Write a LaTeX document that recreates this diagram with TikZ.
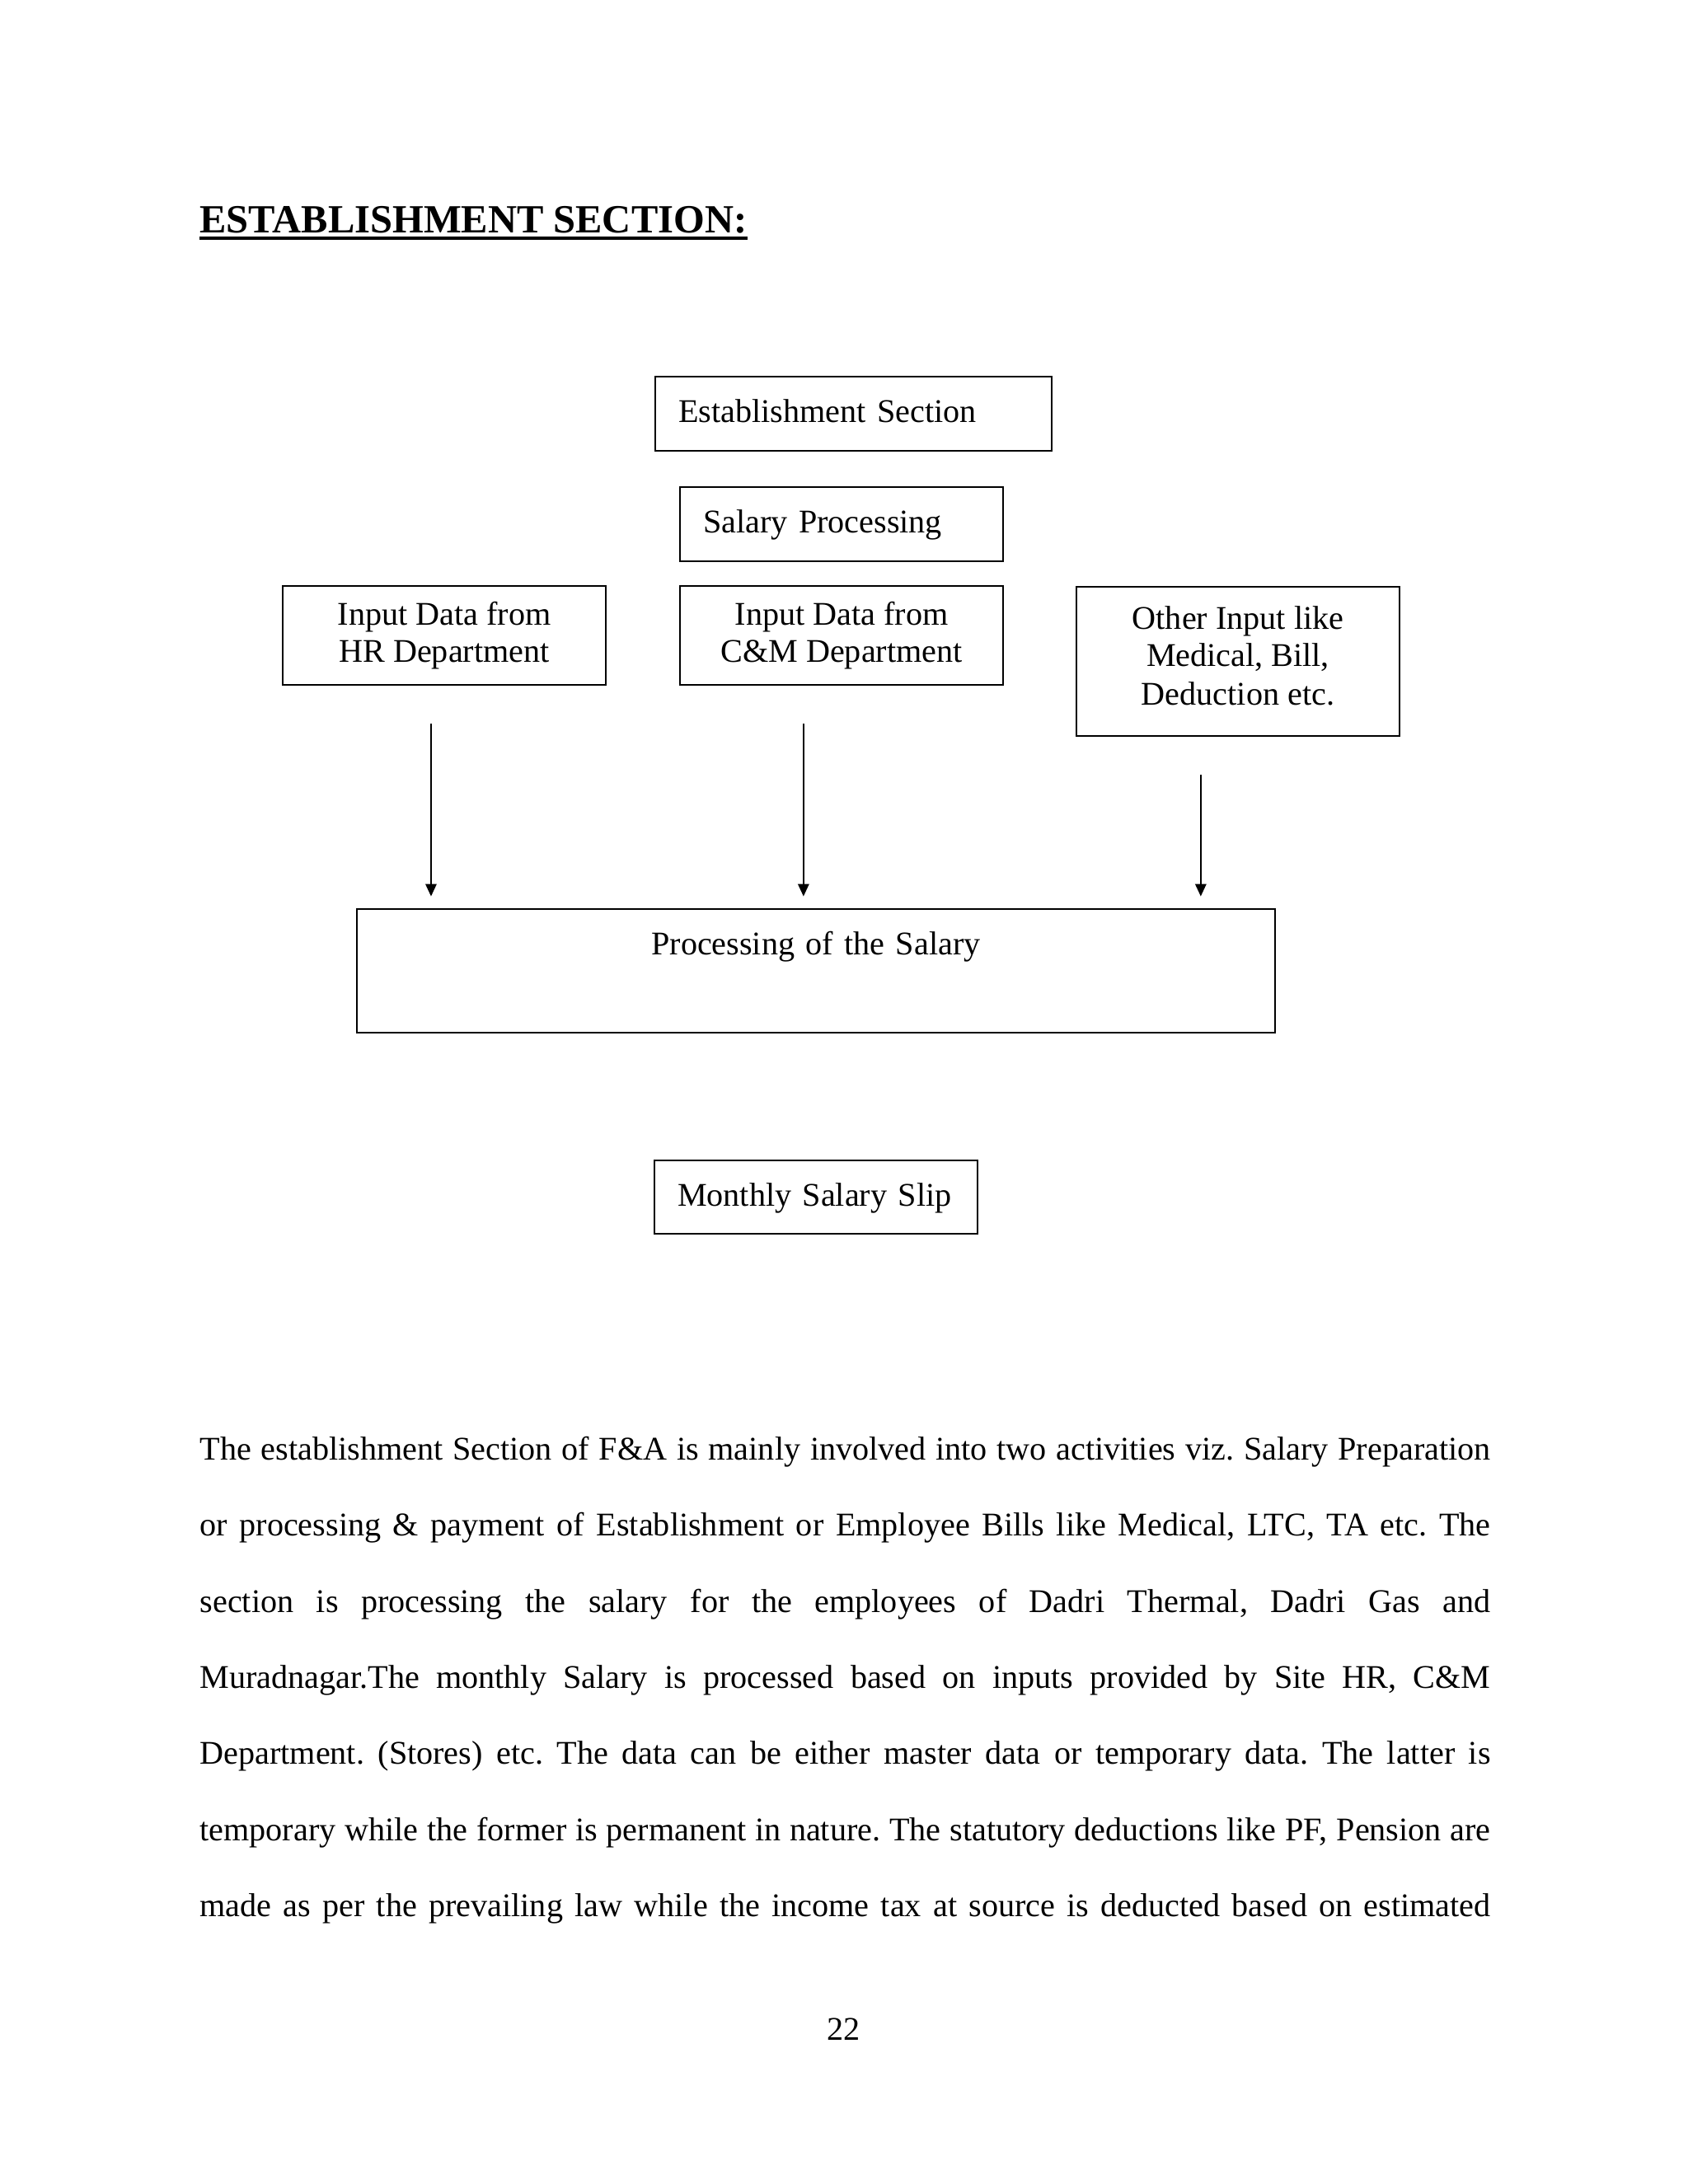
\documentclass[tikz,border=0pt]{standalone}
\usepackage{fontspec}
\setmainfont{Liberation Serif}
\usetikzlibrary{arrows.meta}
\begin{document}
\begin{tikzpicture}[
    box/.style={draw, line width=0.6pt, inner xsep=8.4pt, inner ysep=0pt, font=\fontsize{12}{13.2}\selectfont},
    onerow/.style={text height=16.7pt, text depth=#1},
    flow/.style={-{Triangle[width=4pt,length=4.5pt]}, line width=0.6pt, shorten <=13.7pt, shorten >=4.3pt}
]
        \useasboundingbox (0,0) rectangle (612pt,-792pt);
        \node[anchor=base west, inner sep=0pt, font=\fontsize{14.5}{16}\selectfont\bfseries] (title) at (72.3pt,-84.3pt) {ESTABLISHMENT SECTION:};
        \draw[line width=1.3pt] ([yshift=-2.1pt]title.base west) -- ([yshift=-2.1pt]title.base east);
        \node[box, onerow=10.2pt, text width=127pt, align=left] (estsec) at (309.5pt,-150.05pt) {Establishment Section};
        \node[box, onerow=10.2pt, text width=100.4pt, align=left] (salproc) at (305.15pt,-190.05pt) {Salary Processing};
        \node[box, align=center, minimum width=117.2pt, minimum height=35.9pt] (hrdata) at (161.1pt,-230.45pt) {Input Data from\\HR Department};
        \node[box, align=center, minimum width=117.2pt, minimum height=35.9pt] (cmdata) at (305.15pt,-230.45pt) {Input Data from\\C\&M Department};
        \node[box, align=center, minimum width=117.2pt, minimum height=54.1pt] (otherdata) at (448.9pt,-239.85pt) {Other Input like\\Medical, Bill,\\[1pt]Deduction etc.\rule[-4pt]{0pt}{4pt}};
        \node[box, onerow=28.1pt, text width=316.1pt, align=center] (salary) at (295.85pt,-352.05pt) {Processing of the Salary};
        \node[box, onerow=9.9pt, text width=100.3pt, align=left] (slip) at (295.85pt,-434.1pt) {Monthly Salary Slip};
        \draw[flow] ([xshift=-4.8pt]hrdata.south) -- ([xshift=-4.8pt]hrdata.south |- salary.north);
        \draw[flow] ([xshift=-13.8pt]cmdata.south) -- ([xshift=-13.8pt]cmdata.south |- salary.north);
        \draw[flow] ([xshift=-13.5pt]otherdata.south) -- ([xshift=-13.5pt]otherdata.south |- salary.north);
        \node[anchor=north west, inner sep=0pt, text width=468pt, align=justify, font=\fontsize{12}{27.6}\selectfont] (bodytext) at (72.3pt,-520.8pt) {\parfillskip=0pt \tolerance=10000 \hyphenpenalty=10000 \frenchspacing
            The establishment Section of F\&A is mainly involved into two activities viz. Salary Preparation\linebreak
            or processing \& payment of Establishment or Employee Bills like Medical, LTC, TA etc. The\linebreak
            section is processing the salary for the employees of Dadri Thermal, Dadri Gas and\linebreak
            Muradnagar.The monthly Salary is processed based on inputs provided by Site HR, C\&M\linebreak
            Department. (Stores) etc. The data can be either master data or temporary data. The latter is\linebreak
            temporary while the former is permanent in nature. The statutory deductions like PF, Pension are\linebreak
            made as per the prevailing law while the income tax at source is deducted based on estimated\par};
        \node[anchor=base, inner sep=0pt, font=\fontsize{12}{14}\selectfont] (pagenum) at (306pt,-739.7pt) {22};
    \end{tikzpicture}
\end{document}
